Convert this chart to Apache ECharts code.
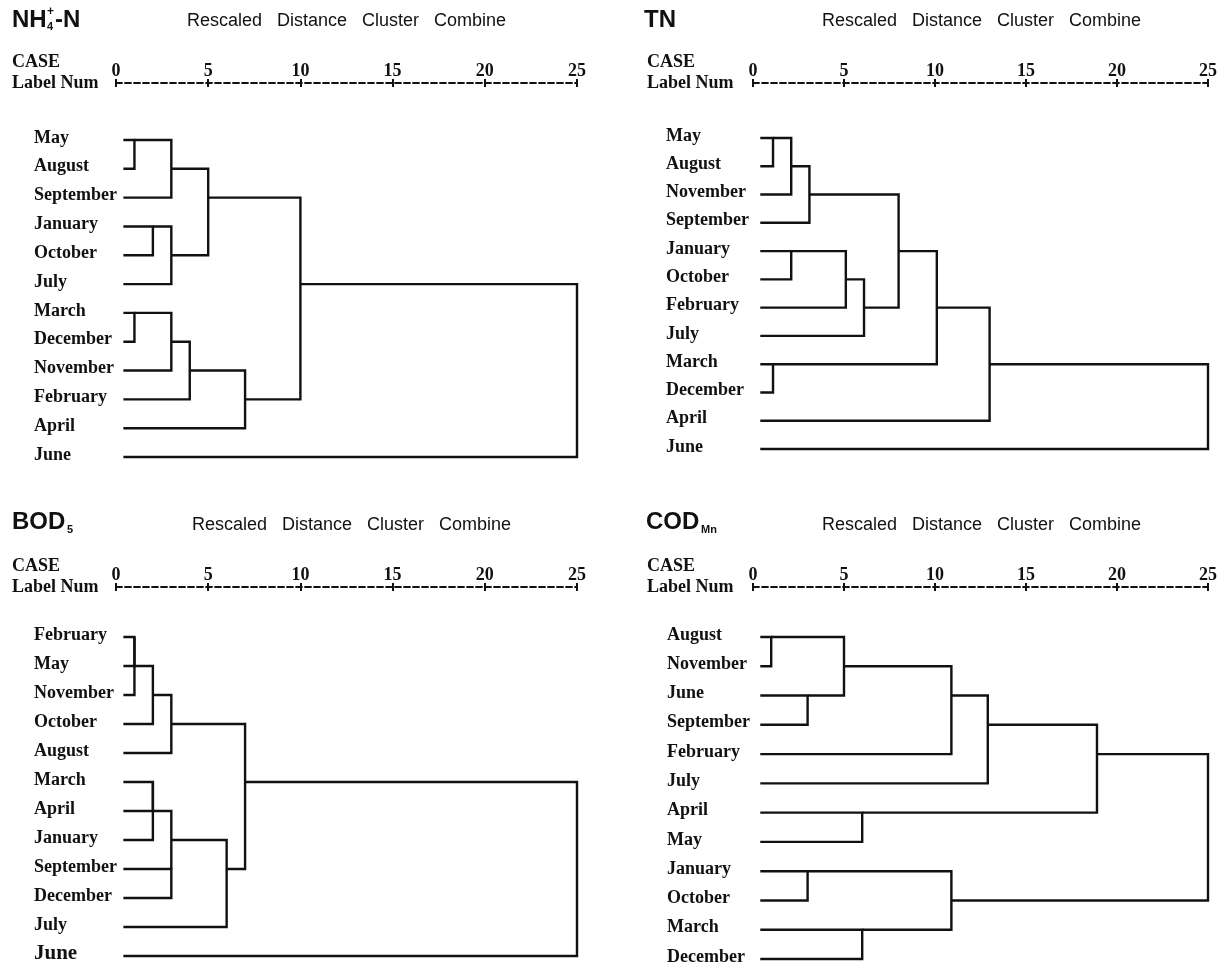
<!DOCTYPE html>
<html>
<head>
<meta charset="utf-8">
<script src="https://cdn.jsdelivr.net/npm/echarts@6/dist/echarts.min.js"></script>
<style>html,body{margin:0;padding:0;background:#fff;}#chart{width:1231px;height:970px;}</style>
</head>
<body>
<div id="chart"></div>
<script>
// ---------------- data ----------------
// merges: [childA, childB, rescaled distance]; children < 12 are leaves (row index), >= 12 are earlier merges
const nh4Leaves = ['May','August','September','January','October','July','March','December','November','February','April','June'];
const nh4Merges = [[0,1,1],[12,2,3],[3,4,2],[14,5,3],[13,15,5],[6,7,1],[17,8,3],[18,9,4],[19,10,7],[16,20,10],[21,11,25]];

const tnLeaves = ['May','August','November','September','January','October','February','July','March','December','April','June'];
const tnMerges = [[0,1,1.1],[12,2,2.1],[13,3,3.1],[4,5,2.1],[15,6,5.1],[16,7,6.1],[14,17,8.0],[8,9,1.1],[18,19,10.1],[20,10,13.0],[21,11,25]];

const bodLeaves = ['February','May','November','October','August','March','April','January','September','December','July','June'];
const bodMerges = [[0,1,1],[12,2,1],[13,3,2],[14,4,3],[5,6,2],[16,7,2],[8,9,3],[17,18,3],[19,10,6],[15,20,7],[21,11,25]];

const codLeaves = ['August','November','June','September','February','July','April','May','January','October','March','December'];
const codMerges = [[0,1,1],[2,3,3],[12,13,5],[14,4,10.9],[15,5,12.9],[6,7,6],[16,17,18.9],[8,9,3],[10,11,6],[19,20,10.9],[18,21,25]];

const axisMin = 0, axisMax = 25, axisStep = 5;
const subtitle = 'Rescaled   Distance   Cluster   Combine';

// ---------------- layout ----------------
const LEAF_START = 0.4;
const SERIF = '"Liberation Serif","Times New Roman",serif';
const SANS = '"Liberation Sans",Arial,sans-serif';
const INK = '#111';

const panels = [
  {leaves: nh4Leaves, merges: nh4Merges, left:116, width:461, top:140, height:317, axisY:83, labelX:34},
  {leaves: tnLeaves,  merges: tnMerges,  left:753, width:455, top:138, height:311, axisY:83, labelX:666},
  {leaves: bodLeaves, merges: bodMerges, left:116, width:461, top:637, height:319, axisY:587, labelX:34, bigLast:true},
  {leaves: codLeaves, merges: codMerges, left:753, width:455, top:637, height:322, axisY:587, labelX:667}
];

function buildSegments(leaves, merges) {
  const n = leaves.length, nx = [], ny = [], out = [];
  for (let i = 0; i < n; i++) { nx[i] = LEAF_START; ny[i] = i; }
  merges.forEach(([a, b, d], k) => {
    out.push([nx[a], ny[a], d, ny[b], nx[b]]);
    nx[n + k] = d;
    ny[n + k] = Math.floor((ny[a] + ny[b]) / 2);
  });
  return out;
}

const grid = [], xAxis = [], yAxis = [], series = [];
panels.forEach((p, i) => {
  grid.push({left: p.left, width: p.width, top: p.top, height: p.height});
  const off = p.top - p.axisY;
  xAxis.push({
    gridIndex: i, type: 'value', min: axisMin, max: axisMax, interval: axisStep,
    position: 'top', offset: off,
    axisLine: {show: true, onZero: false, lineStyle: {color: INK, width: 1.8, type: [6, 3]}},
    axisTick: {show: true, length: 4, lineStyle: {color: INK, width: 2}},
    axisLabel: {color: INK, fontFamily: SERIF, fontWeight: 'bold', fontSize: 18, margin: 3},
    splitLine: {show: false}
  });
  xAxis.push({
    gridIndex: i, type: 'value', min: axisMin, max: axisMax, interval: axisStep,
    position: 'top', offset: off,
    axisLine: {show: false, onZero: false},
    axisTick: {show: true, inside: true, length: 4, lineStyle: {color: INK, width: 2}},
    axisLabel: {show: false}, splitLine: {show: false}
  });
  const leaves = p.leaves;
  yAxis.push({
    gridIndex: i, type: 'value', min: 0, max: leaves.length - 1, interval: 1, inverse: true,
    axisLine: {show: false}, axisTick: {show: false}, splitLine: {show: false},
    axisLabel: {
      align: 'left', margin: p.left - p.labelX, color: INK,
      fontFamily: SERIF, fontWeight: 'bold', fontSize: 18,
      padding: [0, 0, 4, 0],
      formatter: v => (p.bigLast && v === leaves.length - 1) ? '{big|' + leaves[v] + '}' : leaves[v],
      rich: {big: {fontFamily: SERIF, fontWeight: 'bold', fontSize: 21, color: INK}}
    }
  });
  series.push({
    type: 'custom', xAxisIndex: 2 * i, yAxisIndex: i, clip: false,
    data: buildSegments(p.leaves, p.merges),
    encode: {x: [0, 2, 4], y: [1, 3]},
    renderItem: (params, api) => {
      const pts = [
        api.coord([api.value(0), api.value(1)]),
        api.coord([api.value(2), api.value(1)]),
        api.coord([api.value(2), api.value(3)]),
        api.coord([api.value(4), api.value(3)])
      ];
      return {type: 'polyline', shape: {points: pts}, style: {stroke: INK, lineWidth: 2.4, fill: null, lineJoin: 'miter'}};
    }
  });
});

function txt(x, y, s, size, family, weight, extra) {
  return Object.assign({type: 'text', x: x, y: y, style: {text: s, fill: INK, font: (weight||'normal') + ' ' + size + 'px ' + family, textVerticalAlign: 'middle'}}, extra || {});
}

const graphic = [
  // NH4+-N
  txt(12, 20, 'NH', 24, SANS, 'bold'),
  txt(47, 27, '4', 11, SANS, 'bold'),
  txt(47, 12, '+', 12, SANS, 'bold'),
  txt(55, 20, '-N', 24, SANS, 'bold'),
  txt(187, 21, subtitle, 18, SANS),
  txt(12, 62, 'CASE', 18, SERIF, 'bold'),
  txt(12, 83, 'Label Num', 18, SERIF, 'bold'),
  // TN
  txt(644, 20, 'TN', 24, SANS, 'bold'),
  txt(822, 21, subtitle, 18, SANS),
  txt(647, 62, 'CASE', 18, SERIF, 'bold'),
  txt(647, 83, 'Label Num', 18, SERIF, 'bold'),
  // BOD5
  txt(12, 522, 'BOD', 24, SANS, 'bold'),
  txt(67, 530, '5', 11, SANS, 'bold'),
  txt(192, 525, subtitle, 18, SANS),
  txt(12, 566, 'CASE', 18, SERIF, 'bold'),
  txt(12, 587, 'Label Num', 18, SERIF, 'bold'),
  // CODMn
  txt(646, 522, 'COD', 24, SANS, 'bold'),
  txt(701, 530, 'Mn', 11, SANS, 'bold'),
  txt(822, 525, subtitle, 18, SANS),
  txt(647, 566, 'CASE', 18, SERIF, 'bold'),
  txt(647, 587, 'Label Num', 18, SERIF, 'bold')
];

const chart = echarts.init(document.getElementById('chart'), null, {renderer: 'canvas'});
chart.setOption({animation: false, backgroundColor: '#fff', grid, xAxis, yAxis, series, graphic});
</script>
</body>
</html>
